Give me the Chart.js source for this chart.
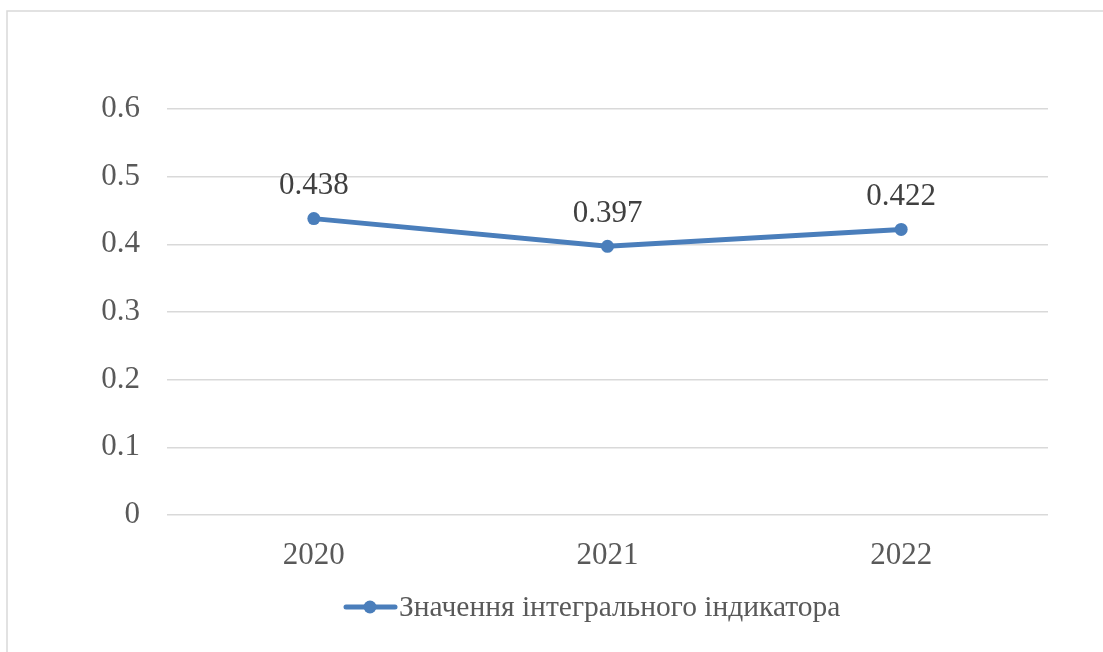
<!DOCTYPE html>
<html><head><meta charset="utf-8">
<script src="https://cdn.jsdelivr.net/npm/chart.js@4/dist/chart.umd.min.js"></script>
<style>html,body{margin:0;padding:0;background:#fff}#wrap{width:1103px;height:652px;position:relative}</style>
</head><body><div id="wrap"><canvas id="c" width="1103" height="652"></canvas></div>
<script>
const categories = ["2020", "2021", "2022"];
const seriesName = "Значення інтегрального індикатора";
const values = [0.438, 0.397, 0.422];
const yTicks = [0, 0.1, 0.2, 0.3, 0.4, 0.5, 0.6];

const FONT = "'Liberation Serif', 'Times New Roman', serif";
const TEXT = "#595959";
const BLUE = "#4a7ebb";
const FS = 31;

const extras = {
  id: 'extras',
  beforeDraw(chart) {
    const ctx = chart.ctx;
    ctx.save();
    ctx.fillStyle = '#fff';
    ctx.fillRect(0, 0, chart.width, chart.height);
    ctx.strokeStyle = '#d9d9d9';
    ctx.lineWidth = 1.5;
    ctx.beginPath();
    ctx.moveTo(7, 652);
    ctx.lineTo(7, 11);
    ctx.lineTo(1103, 11);
    ctx.stroke();
    ctx.restore();
  },
  afterDatasetsDraw(chart) {
    const ctx = chart.ctx;
    const meta = chart.getDatasetMeta(0);
    ctx.save();
    ctx.font = FS + "px " + FONT;
    ctx.fillStyle = "#404040";
    ctx.textAlign = 'center';
    ctx.textBaseline = 'middle';
    meta.data.forEach((pt, i) => {
      ctx.fillText(values[i].toFixed(3), pt.x, pt.y - 33);
    });
    // legend
    const ly = 607;
    ctx.strokeStyle = BLUE;
    ctx.lineWidth = 5;
    ctx.lineCap = 'round';
    ctx.beginPath();
    ctx.moveTo(346, ly);
    ctx.lineTo(395, ly);
    ctx.stroke();
    ctx.fillStyle = BLUE;
    ctx.beginPath();
    ctx.arc(370, ly, 6.5, 0, Math.PI * 2);
    ctx.fill();
    ctx.fillStyle = TEXT;
    ctx.textAlign = 'left';
    ctx.font = "29.5px " + FONT;
    ctx.fillText(seriesName, 399, ly + 1);
    ctx.restore();
  }
};

new Chart(document.getElementById('c'), {
  type: 'line',
  data: {
    labels: categories,
    datasets: [{
      label: seriesName,
      data: values,
      borderColor: BLUE,
      backgroundColor: BLUE,
      borderWidth: 5,
      pointRadius: 6.5,
      pointHoverRadius: 6.5,
      pointBackgroundColor: BLUE,
      pointBorderWidth: 0,
      tension: 0
    }]
  },
  options: {
    responsive: false,
    animation: false,
    layout: { padding: { left: 0, top: 109, right: 55, bottom: 0 } },
    plugins: { legend: { display: false }, tooltip: { enabled: false } },
    scales: {
      x: {
        offset: true,
        grid: { display: false, drawTicks: false },
        border: { display: false },
        ticks: { color: TEXT, font: { family: FONT, size: FS }, padding: 22, maxRotation: 0 },
        afterFit(s) { s.height = 137; }
      },
      y: {
        min: 0, max: 0.6,
        afterBuildTicks(s) { s.ticks = yTicks.map(v => ({ value: v })); },
        grid: { color: '#d9d9d9', lineWidth: 1.5, drawTicks: false },
        border: { display: false },
        ticks: { color: TEXT, font: { family: FONT, size: FS }, padding: 27,
                 callback: v => String(v) },
        afterFit(s) { s.width = 167; }
      }
    }
  },
  plugins: [extras]
});
</script></body></html>
